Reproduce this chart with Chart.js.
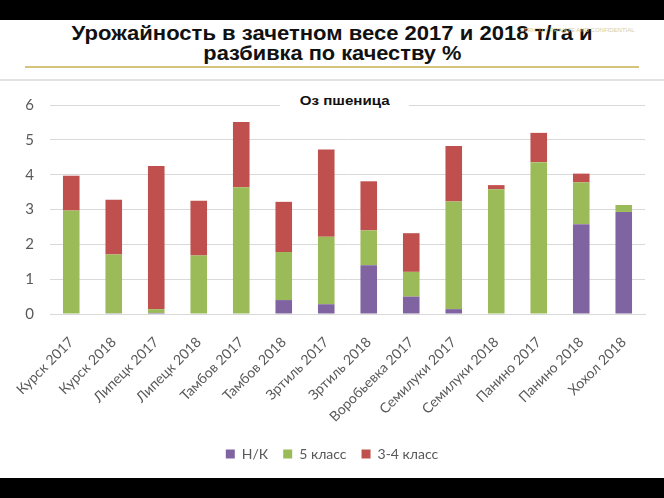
<!DOCTYPE html>
<html>
<head>
<meta charset="utf-8">
<script src="https://cdn.jsdelivr.net/npm/chart.js@4/dist/chart.umd.min.js"></script>
<style>
  html, body { margin: 0; padding: 0; background: #fff; }
  body { width: 664px; height: 498px; position: relative; overflow: hidden; }
  .bar { position: absolute; left: 0; width: 664px; background: #000; }
  #title { position: absolute; left: 0; width: 664px; top: 23px; text-align: center;
           font: bold 21px "Liberation Sans", Arial, sans-serif; line-height: 20px; color: #111; }
  #title span { display: inline-block; white-space: nowrap; transform-origin: center; }
  #conf { position: absolute; left: 520px; top: 27px; font: 6px "Liberation Sans", Arial, sans-serif;
          color: #d9cc98; white-space: nowrap; }
  #gold { position: absolute; left: 25px; width: 614px; top: 66px; height: 2px; background: #d6c47e; }
  #edge { position: absolute; left: 0; width: 664px; top: 79px; height: 2px; background: #e2e2e2; }
  #sub { position: absolute; top: 93px; left: 280px; width: 129px; background: #fff; text-align: center;
         font: bold 13px "Liberation Sans", Arial, sans-serif; color: #111; line-height: 16px; }
  #sub span { display: inline-block; white-space: nowrap; }
  canvas { position: absolute; left: 0; top: 80px; }
</style>
</head>
<body>
<div class="bar" style="top:0;height:20px"></div>
<div id="title"><span id="t1">Урожайность в зачетном весе 2017 и 2018 т/га и</span><br><span id="t2">разбивка по качеству %</span></div>
<div id="conf">STRICTLY PRIVATE AND CONFIDENTIAL</div>
<div id="gold"></div>
<div id="edge"></div>
<canvas id="chart" width="664" height="398"></canvas>
<div id="sub"><span id="s1">Оз пшеница</span></div>
<div class="bar" style="top:478px;height:20px"></div>
<script>
const categories = ["Курск 2017", "Курск 2018", "Липецк 2017", "Липецк 2018", "Тамбов 2017", "Тамбов 2018",
  "Зртиль 2017", "Зртиль 2018", "Воробьевка 2017", "Семилуки 2017", "Семилуки 2018", "Панино 2017",
  "Панино 2018", "Хохол 2018"];
const nk      = [0,    0.02, 0.03, 0,    0,    0.40, 0.28, 1.40, 0.50, 0.14, 0,    0,    2.58, 2.93];
const class5  = [2.97, 1.69, 0.11, 1.68, 3.64, 1.38, 1.94, 1.00, 0.71, 3.09, 3.58, 4.36, 1.20, 0.20];
const class34 = [1.00, 1.57, 4.11, 1.57, 1.87, 1.44, 2.50, 1.41, 1.11, 1.59, 0.12, 0.84, 0.25, 0];
const yTicks = [0, 1, 2, 3, 4, 5, 6];

// stretch title text horizontally to the reference widths
function fitWidth(id, target) {
  const el = document.getElementById(id);
  const w = el.getBoundingClientRect().width;
  el.style.transform = "scaleX(" + (target / w) + ")";
}
fitWidth("t1", 521);
fitWidth("t2", 258);
fitWidth("s1", 90);

const gray = "#595959";

new Chart(document.getElementById("chart"), {
  type: "bar",
  data: {
    labels: categories,
    datasets: [
      { label: "Н/К", data: nk, backgroundColor: "#8064a2" },
      { label: "5 класс", data: class5, backgroundColor: "#9bbb59" },
      { label: "3-4 класс", data: class34, backgroundColor: "#c0504d" }
    ]
  },
  options: {
    responsive: false,
    devicePixelRatio: 1,
    animation: false,
    layout: { padding: { left: 19, right: 19, top: 20, bottom: 7 } },
    datasets: { bar: { categoryPercentage: 1, barPercentage: 0.39 } },
    plugins: {
      title: { display: false },
      tooltip: { enabled: false },
      legend: {
        position: "bottom",
        labels: { color: gray, font: { family: "Lato", size: 14 }, boxWidth: 9, boxHeight: 9, padding: 15 }
      }
    },
    scales: {
      x: {
        stacked: true,
        grid: { display: false },
        border: { color: "#d9d9d9" },
        ticks: { color: gray, font: { family: "Lato", size: 14 }, minRotation: 45, maxRotation: 45,
                 autoSkip: false, padding: 12 },
        afterFit: s => { s.height = 118; }
      },
      y: {
        stacked: true,
        min: 0, max: 6,
        afterBuildTicks: s => { s.ticks = yTicks.map(v => ({ value: v })); },
        grid: { color: "#d9d9d9", drawTicks: false },
        border: { display: false },
        ticks: { color: gray, font: { family: "Lato", size: 15 }, padding: 16 },
        afterFit: s => { s.width = 31; }
      }
    }
  }
});
</script>
</body>
</html>
